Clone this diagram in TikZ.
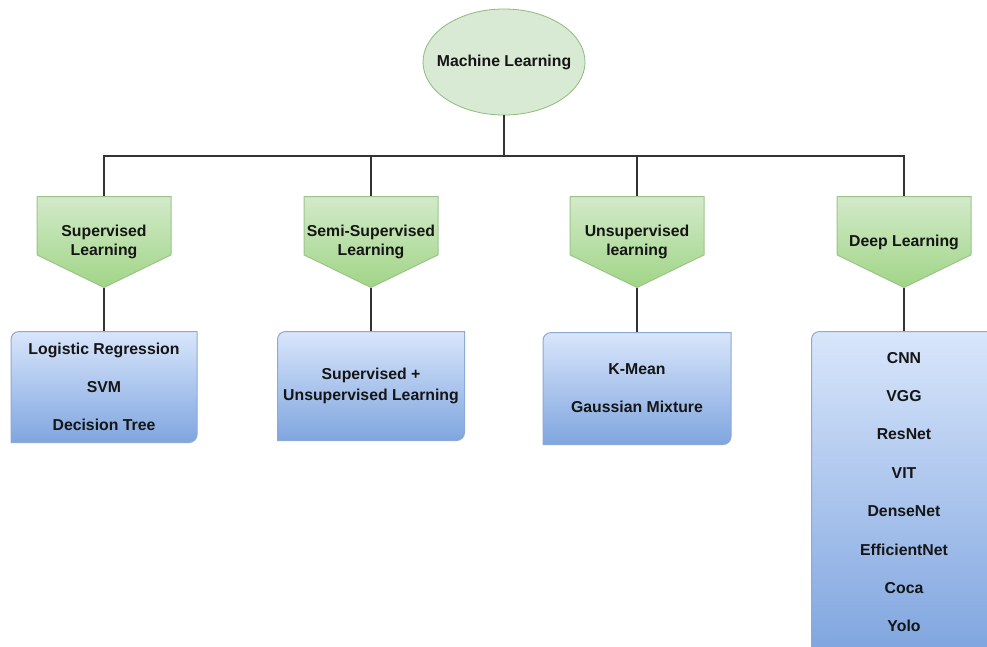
\documentclass[tikz,border=0pt]{standalone}
\usepackage{fontspec}
\setmainfont{Liberation Sans}
\usetikzlibrary{calc,shapes.geometric}

\definecolor{rootfill}{HTML}{D8EAD3}
\definecolor{rootdraw}{HTML}{8DBB7C}
\definecolor{catTop}{HTML}{D3EACA}
\definecolor{catBot}{HTML}{A0D586}
\definecolor{catDraw}{HTML}{9CC48C}
\definecolor{boxTop}{HTML}{D9E6FB}
\definecolor{boxBot}{HTML}{7FA5DF}
\definecolor{boxDraw}{HTML}{8EA9D3}
\definecolor{wire}{HTML}{333333}
\definecolor{ink}{HTML}{151515}

\tikzset{
  labeltext/.style={text=ink, font=\bfseries\fontsize{15.8}{19}\selectfont, align=center},
  root/.style={labeltext, ellipse, fill=rootfill, draw=rootdraw, line width=0.8pt,
    minimum width=162pt, minimum height=106pt, inner xsep=-11pt, inner ysep=0pt},
  % downward pointing tag: a rectangle with a triangular point below it
  category/.style={labeltext, rectangle, inner sep=0pt,
    minimum width=135pt, minimum height=92pt,
    path picture={
      \shade[top color=catTop, bottom color=catBot, draw=catDraw, line width=1pt]
        ([shift={(0.5pt,-0.5pt)}]path picture bounding box.north west)
        -- ([shift={(-0.5pt,-0.5pt)}]path picture bounding box.north east)
        -- ($(path picture bounding box.north east)!0.64!(path picture bounding box.south east)+(-0.5pt,0)$)
        -- ([yshift=0.5pt]path picture bounding box.south)
        -- ($(path picture bounding box.north west)!0.64!(path picture bounding box.south west)+(0.5pt,0)$)
        -- cycle;
    }},
  % box with rounded top-left and bottom-right corners
  leaf/.style={labeltext, rectangle, inner sep=0pt,
    path picture={
      \shade[top color=boxTop, bottom color=boxBot, draw=boxDraw, line width=1pt]
        ([shift={(0.5pt,0.5pt)}]path picture bounding box.south west)
        -- ([shift={(0.5pt,-8.5pt)}]path picture bounding box.north west)
        arc[start angle=180, end angle=90, radius=8pt]
        -- ([shift={(-0.5pt,-0.5pt)}]path picture bounding box.north east)
        -- ([shift={(-0.5pt,8.5pt)}]path picture bounding box.south east)
        arc[start angle=0, end angle=-90, radius=8pt]
        -- cycle;
    }},
  wireline/.style={draw=wire, line width=1.2pt},
}

\begin{document}
\begin{tikzpicture}[x=1pt, y=-1pt]
  \useasboundingbox[fill=white] (0,0) rectangle (987,646);

  % root
  \node[root] (ml) at (504,62) {Machine Learning};

  % categories
  \node[category] (sup)   at (104,242) {Supervised\\Learning};
  \node[category] (semi)  at (371,242) {Semi-Supervised\\Learning};
  \node[category] (unsup) at (637,242) {Unsupervised\\learning};
  \node[category] (deep)  at (904,242) {Deep Learning};

  % method boxes
  \node[leaf, minimum width=187pt, minimum height=112pt,
        font=\bfseries\fontsize{15.8}{38}\selectfont] (m1) at (104,387)
        {Logistic Regression\\SVM\\Decision Tree};
  \node[leaf, minimum width=188pt, minimum height=110pt,
        font=\bfseries\fontsize{15.8}{21}\selectfont] (m2) at (371,386)
        {Supervised +\\Unsupervised Learning};
  \node[leaf, minimum width=189pt, minimum height=113pt,
        font=\bfseries\fontsize{15.8}{38}\selectfont] (m3) at (637,388.5)
        {K-Mean\\Gaussian Mixture};
  \node[leaf, minimum width=186pt, minimum height=322pt,
        font=\bfseries\fontsize{15.8}{38.4}\selectfont] (m4) at (904,492)
        {CNN\\VGG\\ResNet\\VIT\\DenseNet\\EfficientNet\\Coca\\Yolo};

  % connectors
  \coordinate (bus) at (504,156);
  \draw[wireline] (ml.south) -- (bus);
  \draw[wireline] (sup.north) |- (bus) -| (deep.north);
  \draw[wireline] (semi.north) -- (semi.north |- bus);
  \draw[wireline] (unsup.north) -- (unsup.north |- bus);

  \draw[wireline] (sup.south) -- (m1.north);
  \draw[wireline] (semi.south) -- (m2.north);
  \draw[wireline] (unsup.south) -- (m3.north);
  \draw[wireline] (deep.south) -- (m4.north);
\end{tikzpicture}
\end{document}
